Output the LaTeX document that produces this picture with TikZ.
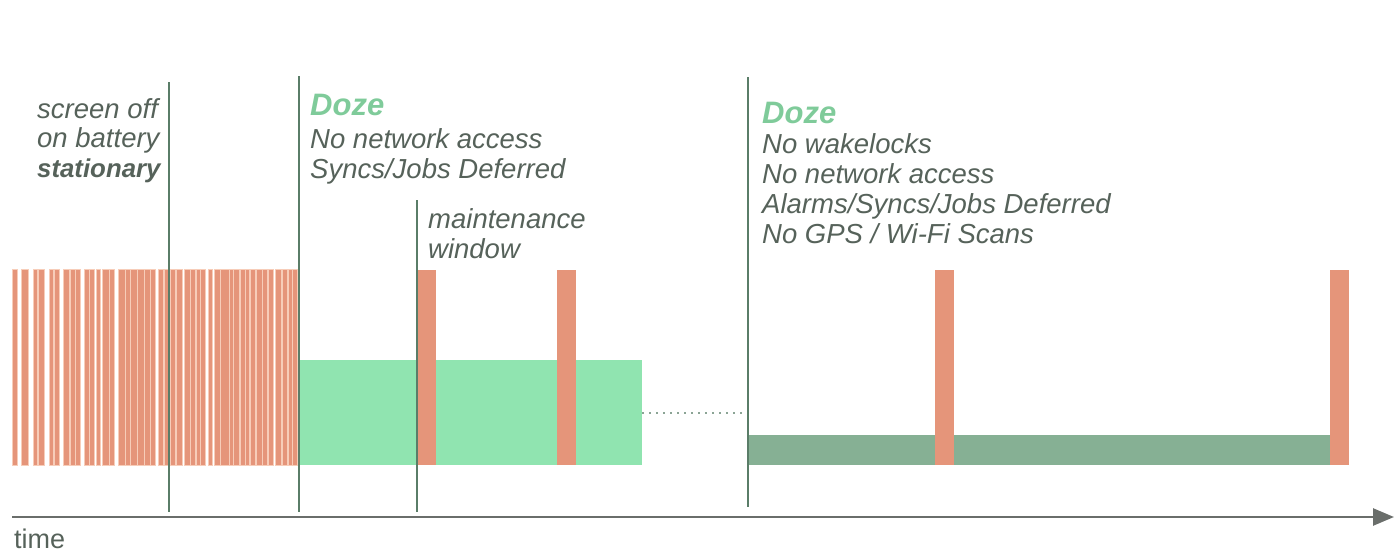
\documentclass[tikz,border=0pt]{standalone}
\usepackage{fontspec}
\setmainfont{Liberation Sans}
\usetikzlibrary{arrows.meta}
\definecolor{stripec}{HTML}{E5957A}
\definecolor{palec}{HTML}{F7CDB9}
\definecolor{lightg}{HTML}{90E4B0}
\definecolor{darkg}{HTML}{86B094}
\definecolor{linec}{HTML}{5A7D68}
\definecolor{txt}{HTML}{56625A}
\definecolor{dozec}{HTML}{7FCB9A}
\definecolor{axisc}{HTML}{6A6E6B}
\tikzset{
  stripe/.style={fill=stripec},
  halo/.style={fill=palec},
  wake/.style={fill=stripec},
  idlebox/.style={fill=lightg},
  deepbox/.style={fill=darkg},
  marker/.style={draw=linec, line width=1.6pt},
  lbl/.style={anchor=base west, inner sep=0pt, text=txt, font=\fontsize{27.5}{30}\selectfont\itshape},
  lblb/.style={lbl, font=\fontsize{25.8}{30}\selectfont\itshape\bfseries},
  dozelbl/.style={anchor=base west, inner sep=0pt, text=dozec, font=\fontsize{31}{34}\selectfont\itshape\bfseries},
  axis/.style={draw=axisc, line width=2.6pt, -{Triangle[length=21pt,width=17pt]}},
}
\begin{document}
\begin{tikzpicture}[x=1pt,y=-1pt]
\useasboundingbox (0,0) rectangle (1400,557);
% stripes (screen on / activity)
\foreach \a/\b in {13/17,22/28,34/37,39/44,50/53,55/59,64/69,71/75,76/80,85/89,90/94,97/100,103/109,110/114,119/125,126/130,131/137,138/144,145/150,151/155,159/163,165/169,171/175,177/182,185/190,191/195,197/200,201/205,209/212,215/220,221/229,230/233,234/239,241/245,246/249,251/255,257/262,263/267,269/273,276/281,283/287,289/292,293/297}
  \fill[halo] (\a-1.2,269) rectangle (\b+1.2,466);
\foreach \a/\b in {13/17,22/28,34/37,39/44,50/53,55/59,64/69,71/75,76/80,85/89,90/94,97/100,103/109,110/114,119/125,126/130,131/137,138/144,145/150,151/155,159/163,165/169,171/175,177/182,185/190,191/195,197/200,201/205,209/212,215/220,221/229,230/233,234/239,241/245,246/249,251/255,257/262,263/267,269/273,276/281,283/287,289/292,293/297}
  \fill[stripe] (\a,270) rectangle (\b,465);
% light doze blocks
\fill[idlebox] (300,360) rectangle (642,465);
% deep doze block
\fill[deepbox] (748,435) rectangle (1330,465);
% maintenance windows
\fill[wake] (417,270) rectangle (436,465);
\fill[wake] (557,270) rectangle (576,465);
\fill[wake] (935,270) rectangle (954,465);
\fill[wake] (1330,270) rectangle (1349,465);
% dotted link
\coordinate (d1) at (642,413);
\coordinate (d2) at (743,413);
\draw[draw=linec!70, line width=1.4pt, dash pattern=on 2pt off 5pt] (d1) -- (d2);
% marker lines
\coordinate (m1t) at (169,82);  \coordinate (m1b) at (169,512);
\coordinate (m2t) at (299,76);  \coordinate (m2b) at (299,512);
\coordinate (m3t) at (417,200); \coordinate (m3b) at (417,512);
\coordinate (m4t) at (748,77);  \coordinate (m4b) at (748,507);
\draw[marker] (m1t) -- (m1b);
\draw[marker] (m2t) -- (m2b);
\draw[marker] (m3t) -- (m3b);
\draw[marker] (m4t) -- (m4b);
% time axis
\coordinate (ax0) at (12,517);
\coordinate (ax1) at (1394,517);
\draw[axis] (ax0) -- (ax1);
\node[anchor=base west, inner sep=0pt, text=txt, font=\fontsize{27}{30}\selectfont] (time) at (14,548) {time};
% labels
\node[lbl] (s1) at (37,118) {screen off};
\node[lbl] (s2) at (37,147) {on battery};
\node[lblb] (s3) at (37,177) {stationary};
\node[dozelbl] (dz1) at (310,115) {Doze};
\node[lbl] (a1) at (310,148) {No network access};
\node[lbl] (a2) at (310,178) {Syncs/Jobs Deferred};
\node[lbl] (mw1) at (428,228) {maintenance};
\node[lbl] (mw2) at (428,258) {window};
\node[dozelbl] (dz2) at (762,123) {Doze};
\node[lbl] (b1) at (762,153) {No wakelocks};
\node[lbl] (b2) at (762,183) {No network access};
\node[lbl] (b3) at (762,213) {Alarms/Syncs/Jobs Deferred};
\node[lbl] (b4) at (762,243) {No GPS / Wi-Fi Scans};
\end{tikzpicture}
\end{document}
